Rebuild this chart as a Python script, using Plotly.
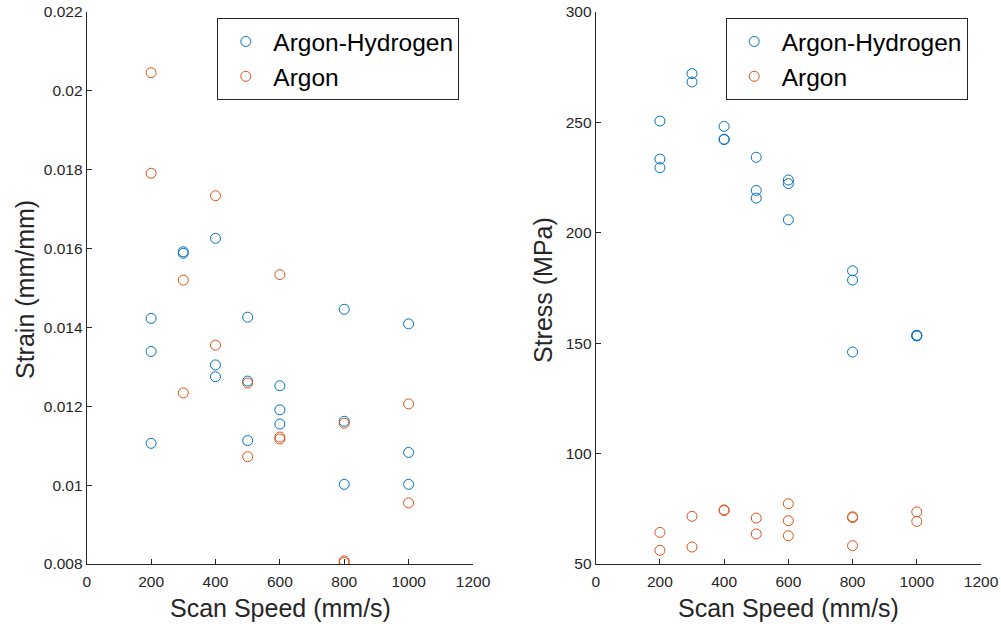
import plotly.graph_objects as go

# Argon-Hydrogen
ah_speed = [200, 200, 200, 300, 300, 400, 400, 400, 500, 500, 500,
            600, 600, 600, 800, 800, 800, 1000, 1000, 1000]
ah_strain = [0.01423, 0.01339, 0.01106, 0.01592, 0.01588, 0.01626, 0.01305, 0.01275,
             0.01426, 0.01264, 0.01113, 0.01252, 0.01191, 0.01155, 0.01446, 0.01162,
             0.01002, 0.01409, 0.01083, 0.01002]
ah_stress = [250.6, 233.4, 229.5, 272.1, 268.3, 248.2, 242.4, 242.2,
             234.2, 219.2, 215.7, 223.9, 222.3, 205.9, 182.8, 178.6, 146.0,
             153.6, 153.3, 153.4]

# Argon
ar_speed = [200, 200, 300, 300, 400, 400, 500, 500, 600, 600, 600,
            800, 800, 800, 1000, 1000]
ar_strain = [0.02046, 0.01791, 0.01520, 0.01234, 0.01734, 0.01355, 0.01259, 0.01072,
             0.01534, 0.01122, 0.01117, 0.01157, 0.00808, 0.00804, 0.01206, 0.00955]
ar_stress = [64.3, 56.2, 71.6, 57.7, 74.5, 74.2, 70.8, 63.6,
             77.3, 69.6, 62.8, 71.4, 71.0, 58.3, 73.6, 69.3]

x_ticks = [0, 200, 400, 600, 800, 1000, 1200]
strain_ticks = [0.008, 0.01, 0.012, 0.014, 0.016, 0.018, 0.02, 0.022]
strain_ticktext = ["0.008", "0.01", "0.012", "0.014", "0.016", "0.018", "0.02", "0.022"]
stress_ticks = [50, 100, 150, 200, 250, 300]

BLUE = "#0072BD"
ORANGE = "#D95319"
AX = "#262626"
FONT = "Liberation Sans, Arial, Helvetica, sans-serif"

W, H = 1001, 624
def px(v):
    return v / W
def py(v):
    return 1 - v / H

fig = go.Figure()
mk = lambda c: dict(symbol="circle-open", size=10, color=c, line=dict(width=1, color=c))

fig.add_trace(go.Scatter(x=ah_speed, y=ah_strain, mode="markers", name="Argon-Hydrogen",
                         marker=mk(BLUE), xaxis="x", yaxis="y", legend="legend"))
fig.add_trace(go.Scatter(x=ar_speed, y=ar_strain, mode="markers", name="Argon",
                         marker=mk(ORANGE), xaxis="x", yaxis="y", legend="legend"))
fig.add_trace(go.Scatter(x=ah_speed, y=ah_stress, mode="markers", name="Argon-Hydrogen",
                         marker=mk(BLUE), xaxis="x2", yaxis="y2", legend="legend2"))
fig.add_trace(go.Scatter(x=ar_speed, y=ar_stress, mode="markers", name="Argon",
                         marker=mk(ORANGE), xaxis="x2", yaxis="y2", legend="legend2"))

axis_common = dict(showline=True, linecolor=AX, linewidth=1, ticks="inside", ticklen=5,
                   tickcolor=AX, showgrid=False, zeroline=False, mirror=False,
                   automargin=False,
                   tickfont=dict(family=FONT, size=15.5, color=AX))

legend_common = dict(xanchor="left", yanchor="top", bordercolor=AX, borderwidth=1,
                     bgcolor="white", itemwidth=45,
                     font=dict(family=FONT, size=24.5, color="black"))

ydom = [py(564), py(12)]
fig.update_layout(
    width=W, height=H, margin=dict(l=0, r=0, t=0, b=0, pad=0, autoexpand=False),
    paper_bgcolor="white", plot_bgcolor="white",
    font=dict(family=FONT, color=AX),
    xaxis=dict(domain=[px(86.7), px(473)], range=[0, 1200], tickvals=x_ticks,
               anchor="y", ticklabelstandoff=3, **axis_common),
    yaxis=dict(domain=ydom, range=[0.008, 0.022], tickvals=strain_ticks,
               ticktext=strain_ticktext, anchor="x", **axis_common),
    xaxis2=dict(domain=[px(595.7), px(981)], range=[0, 1200], tickvals=x_ticks,
                anchor="y2", ticklabelstandoff=3, **axis_common),
    yaxis2=dict(domain=ydom, range=[50, 300], tickvals=stress_ticks,
                anchor="x2", **axis_common),
    legend=dict(x=px(217.3), y=py(18), **legend_common),
    legend2=dict(x=px(725.7), y=py(18), **legend_common),
    showlegend=True,
)

ann = dict(showarrow=False, xref="paper", yref="paper", xanchor="center", yanchor="middle",
           font=dict(family=FONT, size=25, color=AX))
fig.add_annotation(text="Scan Speed (mm/s)", x=px(280), y=py(608), **ann)
fig.add_annotation(text="Scan Speed (mm/s)", x=px(788.5), y=py(608), **ann)
fig.add_annotation(text="Strain (mm/mm)", x=px(25), y=py(290), textangle=-90, **ann)
fig.add_annotation(text="Stress (MPa)", x=px(543), y=py(290), textangle=-90, **ann)

fig.write_html("out.html", config={"displayModeBar": False},
               post_script="document.body.style.margin='0';")
